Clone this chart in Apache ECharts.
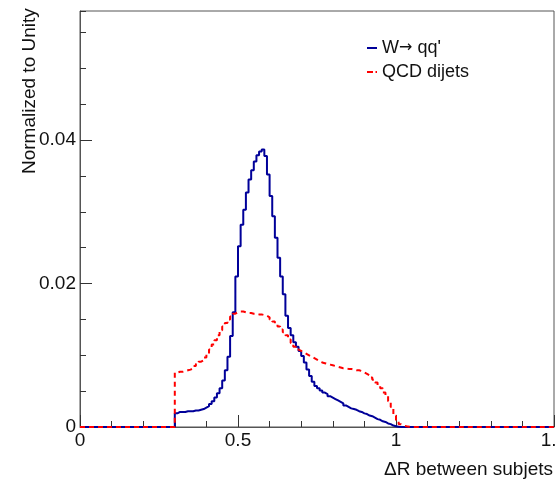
<!DOCTYPE html>
<html>
<head>
<meta charset="utf-8">
<script src="https://cdn.jsdelivr.net/npm/echarts@6/dist/echarts.min.js"></script>
<style>
html,body{margin:0;padding:0;background:#fff;}
#chart{width:556px;height:487px;}
</style>
</head>
<body>
<div id="chart"></div>
<script>
// ---- data ----
const xMin = 0, xMax = 1.5;
const yMin = 0, yMax = 0.058;
const binStart = 0.3;        // first non-empty bin edge
const binWidth = 1 / 120;    // histogram bin width
const seriesNames = ["W\u2192 qq'", "QCD dijets"];
const wValues = [
  0.0019, 0.0021, 0.0021, 0.0021, 0.0022, 0.0022, 0.0022, 0.0023, 0.0023, 0.0024,
  0.0025, 0.0027, 0.0029, 0.0032, 0.0036, 0.0041, 0.0047, 0.0054, 0.0065, 0.0079,
  0.0098, 0.0127, 0.0160, 0.0210, 0.0252, 0.0282, 0.0303, 0.0327, 0.0345, 0.0358,
  0.0370, 0.0379, 0.0384, 0.0387, 0.0378, 0.0352, 0.0322, 0.0294, 0.0264, 0.0236,
  0.0210, 0.0185, 0.0155, 0.0138, 0.0128, 0.0118, 0.0112, 0.0106, 0.0099, 0.0090,
  0.0080, 0.0071, 0.0063, 0.0057, 0.0054, 0.0051, 0.0048, 0.0046, 0.0043, 0.0041,
  0.0039, 0.0037, 0.0035, 0.0033, 0.0030, 0.0028, 0.0026, 0.0025, 0.0024, 0.0022,
  0.0021, 0.0019, 0.0018, 0.0016, 0.0015, 0.0013, 0.0011, 0.0010, 0.0008, 0.0007,
  0.0005, 0.0004, 0.0002, 0.0001, 0.00003, 0, 0, 0, 0, 0
];
const qcdValues = [
  0.0076, 0.0077, 0.0077, 0.0078, 0.0079, 0.0080, 0.0082, 0.0085, 0.0088, 0.0091,
  0.0093, 0.0097, 0.0102, 0.0108, 0.0115, 0.0121, 0.0128, 0.0135, 0.0140, 0.0145,
  0.0150, 0.0154, 0.0158, 0.0160, 0.0161, 0.0161, 0.0160, 0.0159, 0.0159, 0.0158,
  0.0158, 0.0157, 0.0157, 0.0156, 0.0155, 0.0153, 0.0150, 0.0147, 0.0143, 0.0140,
  0.0136, 0.0132, 0.0128, 0.0122, 0.0117, 0.0112, 0.0108, 0.0106, 0.0104, 0.0102,
  0.0100, 0.0098, 0.0096, 0.0094, 0.0092, 0.0090, 0.0089, 0.0088, 0.0087, 0.0086,
  0.0085, 0.0084, 0.0083, 0.0082, 0.0082, 0.0081, 0.0081, 0.0080, 0.0079, 0.0079,
  0.0078, 0.0076, 0.0074, 0.0072, 0.0069, 0.0066, 0.0062, 0.0058, 0.0054, 0.0048,
  0.0043, 0.0036, 0.0028, 0.0016, 0.0008, 0.0004, 0.0002, 0.0001, 0.00005, 0
];
const xTitle = "\u0394R between subjets";
const yTitle = "Normalized to Unity";

// ---- build ----
function histPoints(vals) {
  const pts = [[xMin, 0]];
  vals.forEach((v, i) => pts.push([binStart + i * binWidth, v]));
  pts.push([binStart + vals.length * binWidth, 0]);
  pts.push([xMax, 0]);
  return pts;
}
const FONT = "'Liberation Sans', Arial, Helvetica, sans-serif";
const chart = echarts.init(document.getElementById('chart'), null, {renderer: 'canvas'});
chart.setOption({
  animation: false,
  backgroundColor: '#ffffff',
  grid: {left: 80, right: 2, top: 11, bottom: 60, containLabel: false, outerBoundsMode: 'none',
         show: true, borderColor: '#555', borderWidth: 1, backgroundColor: 'transparent'},
  graphic: [{
    type: 'text', x: 39, y: 174, rotation: Math.PI / 2, silent: true,
    style: {text: yTitle, font: "19px " + FONT, fill: '#111', align: 'left', verticalAlign: 'bottom'}
  }],
  legend: {
    orient: 'vertical', left: 367, top: 39, padding: 0, itemWidth: 10, itemHeight: 2, itemGap: 6,
    textStyle: {fontFamily: FONT, fontSize: 18, color: '#111', lineHeight: 18,
      rich: {arr: {fontFamily: "'DejaVu Sans', sans-serif", fontSize: 16, color: '#111', lineHeight: 18}}},
    formatter: name => name.replace('\u2192', '{arr|\u2192}'),
    data: [
      {name: seriesNames[0], icon: 'rect', itemStyle: {color: '#000099'}},
      {name: seriesNames[1], icon: 'path://M0,0 h6 v2 h-6 Z M8.5,0 h1.5 v2 h-1.5 Z', itemStyle: {color: '#ff0000'}}
    ]
  },
  xAxis: {
    type: 'value', min: xMin, max: xMax, interval: 0.5,
    name: xTitle, nameLocation: 'end', nameGap: -1,
    nameTextStyle: {fontFamily: FONT, fontSize: 19, color: '#111', align: 'right', verticalAlign: 'top', padding: [33, 0, 0, 0]},
    axisLine: {lineStyle: {color: '#555', width: 1}},
    axisTick: {inside: true, length: 12, lineStyle: {color: '#333'}},
    minorTick: {show: true, splitNumber: 5, length: 6, lineStyle: {color: '#333'}},
    splitLine: {show: false},
    axisLabel: {fontFamily: FONT, fontSize: 19, color: '#111', margin: 4, showMinLabel: true, showMaxLabel: true}
  },
  yAxis: [{
    type: 'value', min: yMin, max: yMax, interval: 0.02, position: 'left',
    axisLine: {show: true, lineStyle: {color: '#555', width: 1}},
    axisTick: {inside: true, length: 12, lineStyle: {color: '#333'}},
    splitLine: {show: false},
    axisLabel: {fontFamily: FONT, fontSize: 19, color: '#111', margin: 4, showMaxLabel: false}
  }, {
    type: 'value', min: yMin, max: yMax, interval: 0.005, position: 'left', offset: 0,
    axisLine: {show: false},
    axisTick: {inside: true, length: 6, lineStyle: {color: '#333'}},
    splitLine: {show: false},
    axisLabel: {show: false}
  }],
  series: [{
    name: seriesNames[0], type: 'line', step: 'end', symbol: 'none', yAxisIndex: 0,
    lineStyle: {color: '#000099', width: 2},
    itemStyle: {color: '#000099'},
    data: histPoints(wValues), z: 2
  }, {
    name: seriesNames[1], type: 'line', step: 'end', symbol: 'none', yAxisIndex: 0,
    lineStyle: {color: '#ff0000', width: 2, type: [5, 4]},
    itemStyle: {color: '#ff0000'},
    data: histPoints(qcdValues), z: 3
  }]
});
</script>
</body>
</html>
